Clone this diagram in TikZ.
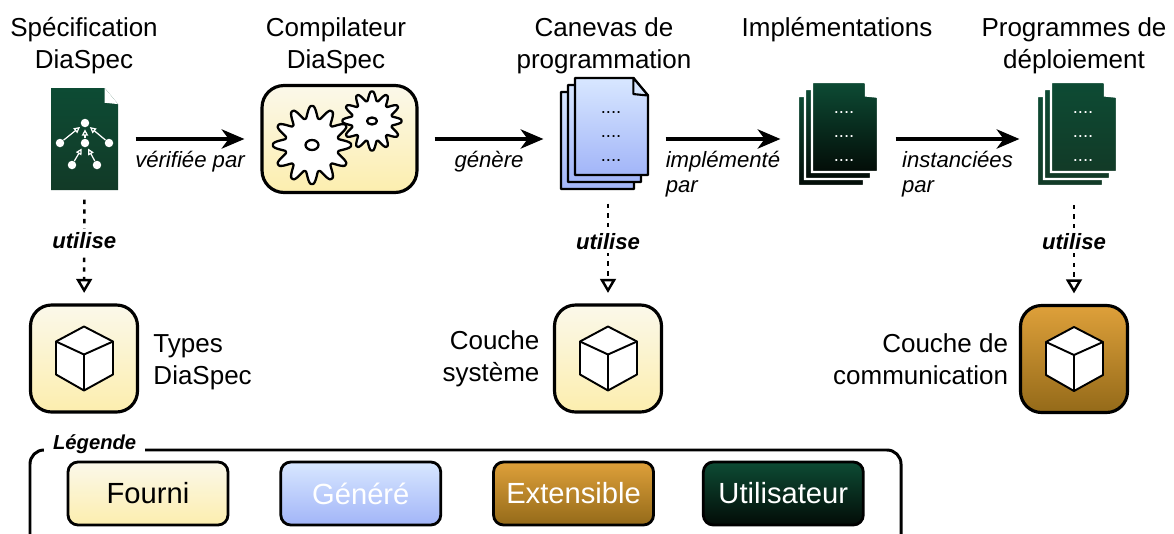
\documentclass[tikz,border=0pt]{standalone}
\usepackage{fontspec}
\setmainfont{Liberation Sans}
\usetikzlibrary{arrows.meta,positioning}

\definecolor{fourniA}{HTML}{FBF8EA}
\definecolor{fourniB}{HTML}{FCEEAE}
\definecolor{genereA}{HTML}{D8E7FF}
\definecolor{genereB}{HTML}{A2B5F8}
\definecolor{extA}{HTML}{DEA03A}
\definecolor{extB}{HTML}{946A19}
\definecolor{userA}{HTML}{0D4B34}
\definecolor{userB}{HTML}{030C07}
\definecolor{specB}{HTML}{123A27}

% one page of a document, from its top left corner
\newcommand{\docpage}[4][]{%
  \path[#1] #2 -- ++({0.8*#3},0) -- ++({0.2*#3},{0.24*#3}) -- ++(0,{#4-0.24*#3}) -- ++(-#3,0) -- cycle;}
\newcommand{\docfold}[3][]{%
  \path[#1] #2 ++({0.8*#3},0) -- ++(0,{0.22*#3}) -- ++({0.2*#3},{0.02*#3}) -- cycle;}
% white cube in the middle of a box
\newcommand{\cubeicon}[1]{%
  \draw[cube] ([shift={(0,-32)}]#1.center) -- ++(29,15) -- ++(0,33) -- ++(-29,16) -- ++(-28,-16) -- ++(0,-33) -- cycle;
  \draw[cube, fill=none] ([shift={(-28,-17)}]#1.center) -- ++(28,13) -- ++(29,-13) ++(-29,13) -- ++(0,36);}

\tikzset{
  fourni/.style={top color=fourniA, bottom color=fourniB},
  genere/.style={top color=genereA, bottom color=genereB},
  extensible/.style={top color=extA, bottom color=extB},
  utilisateur/.style={top color=userA, bottom color=userB},
  icon/.style={inner sep=0pt, outer sep=0pt},
  layerbox/.style={draw, line width=1.8pt, rounded corners=0.42cm, minimum width=2.14cm, minimum height=2.14cm, inner sep=0pt},
  legendbox/.style={draw, line width=1.6pt, rounded corners=0.2cm, minimum width=3.2cm, minimum height=1.26cm, font=\fontsize{16.6}{19}\selectfont},
  title/.style={align=center, font=\fontsize{14.8}{18.1}\selectfont},
  side/.style={inner sep=0pt, font=\fontsize{14.8}{18.1}\selectfont},
  lbl/.style={inner sep=0pt, align=left, font=\fontsize{12.6}{14.2}\selectfont\itshape},
  flow/.style={line width=2pt, -{Stealth[length=13pt,width=11pt,inset=4pt]}, shorten <=10pt, shorten >=10pt},
  uses/.style={line width=1.4pt, dash pattern=on 2.5pt off 3pt, -{Triangle[open,length=8pt,width=9pt,line width=1.4pt]}, shorten >=6pt},
  usestext/.style={fill=white, inner sep=2pt, font=\fontsize{12.6}{14}\selectfont\bfseries\itshape},
  gear/.style={draw, fill=white, line width=1.3pt, line join=round},
  cube/.style={draw, fill=white, line width=1.1pt, line join=round},
  bluepage/.style={genere, draw, line width=1.4pt, line join=round},
  greenpage/.style={utilisateur, draw=white, line width=1.2pt},
  specpage/.style={top color=userA, bottom color=specB},
  progpage/.style={top color=userA, bottom color=specB, draw=white, line width=1.2pt},
  treedot/.style={circle, fill=white, inner sep=0pt, minimum size=0.17cm},
  treearrow/.style={white, line width=0.7pt, -{Triangle[open,length=3.5pt,width=3.5pt]}, shorten >=1pt},
  dotsline/.style={inner sep=0pt, font=\fontsize{10.5}{12}\selectfont},
  legendtitle/.style={fill=white, anchor=west, inner xsep=5pt, inner ysep=1pt, font=\fontsize{11.5}{13}\selectfont\bfseries\itshape},
}

\begin{document}
\begin{tikzpicture}[x=0.02cm, y=-0.02cm]
\useasboundingbox (0,0) rectangle (1174,534);
\clip (0,0) rectangle (1174,534);

% the chain
\node[icon, minimum width=1.34cm, minimum height=2.04cm] (spec) at (84.5,139) {};
\node[icon, draw, fourni, line width=1.8pt, rounded corners=0.44cm, minimum width=3.1cm, minimum height=2.14cm] (compil) at (339.5,139) {};
\node[icon, minimum width=1.74cm, minimum height=2.44cm] (canevas) at (604.5,139) {};
\node[icon, minimum width=1.6cm, minimum height=2.28cm] (impl) at (838,139) {};
\node[icon, minimum width=1.6cm, minimum height=2.28cm] (prog) at (1077,139) {};

\node[title] (tspec) at (84,46) {Spécification\\DiaSpec};
\node[title] (tcompil) at (336,46) {Compilateur\\DiaSpec};
\node[title] (tcanevas) at (604,46) {Canevas de\\programmation};
\node[title] (timpl) at (837,30) {Implémentations};
\node[title] (tprog) at (1074,46) {Programmes de\\déploiement};

% specification
\docpage[specpage]{(spec.north west)}{67}{102}
\docfold[fill=white]{(spec.north west)}{67}
\node[treedot] (s1) at ([shift={(0.5,-16)}]spec) {};
\node[treedot] (s2) at ([shift={(-24.5,4)}]spec) {};
\node[treedot] (s3) at ([shift={(0.5,4)}]spec) {};
\node[treedot] (s4) at ([shift={(24.5,4)}]spec) {};
\node[treedot] (s5) at ([shift={(-12.5,26)}]spec) {};
\node[treedot] (s6) at ([shift={(12.5,26)}]spec) {};
\draw[treearrow] (s2) -- (s1);
\draw[treearrow] (s3) -- (s1);
\draw[treearrow] (s4) -- (s1);
\draw[treearrow] (s5) -- (s3);
\draw[treearrow] (s6) -- (s3);

% compiler gears
\begin{scope}[shift={(372,121)}]
  \draw[gear] plot[domain=0:360, samples=241, smooth] (\x:{25+4.5*max(-1,min(1,1.1*cos(12*\x)))}) -- cycle;
  \draw[gear] (0,0) ellipse [x radius=0.1cm, y radius=0.07cm];
\end{scope}
\begin{scope}[shift={(312,145)}]
  \draw[gear] plot[domain=0:360, samples=241, smooth] (\x:{33+6*max(-1,min(1,1.1*cos(12*\x)))}) -- cycle;
  \draw[gear] (0,0) ellipse [x radius=0.13cm, y radius=0.1cm];
\end{scope}

% stacks of pages
\foreach \off in {14,7,0} {
  \docpage[bluepage]{([shift={(-73-\off,\off)}]canevas.north east)}{73}{97}
  \docpage[greenpage]{([shift={(-66-\off,\off)}]impl.north east)}{66}{90}
  \docpage[progpage]{([shift={(-66-\off,\off)}]prog.north east)}{66}{90}
}
\docfold[fill=genereA, draw, line width=1.2pt, line join=round]{([shift={(-73,0)}]canevas.north east)}{73}
\docfold[fill=white]{([shift={(-66,0)}]impl.north east)}{66}
\docfold[fill=white]{([shift={(-66,0)}]prog.north east)}{66}
\foreach \dy in {113,137,161} {
  \node[dotsline] at (611,\dy) {....};
  \node[dotsline, text=white] at (844,\dy) {....};
  \node[dotsline, text=white] at (1083,\dy) {....};
}

\draw[flow] (spec) -- node[lbl, below=6pt] {vérifiée par} (compil);
\draw[flow] (compil) -- node[lbl, below=6pt] {génère} (canevas);
\draw[flow] (canevas) -- node[lbl, below=6pt] {implémenté\\par} (impl);
\draw[flow] (impl) -- node[lbl, below=6pt] {instanciées\\par} (prog);

% layers
\node[layerbox, fourni] (types) at (84,358.5) {};
\node[layerbox, fourni] (couchesys) at (608,358.5) {};
\node[layerbox, extensible] (couchecom) at (1074,359) {};
\cubeicon{types}
\cubeicon{couchesys}
\cubeicon{couchecom}
\node[side, right=8pt of types, align=left, yshift=-2pt] {Types\\DiaSpec};
\node[side, left=7.5pt of couchesys, align=right] {Couche\\système};
\node[side, left=6pt of couchecom, align=right] {Couche de\\communication};

\draw[uses, shorten <=5.5pt] (spec) -- node[pos=0.45, usestext] {utilise} (types);
\draw[uses, shorten <=2pt] (couchesys |- canevas.south) -- node[pos=0.4, usestext] {utilise} (couchesys);
\draw[uses, shorten <=5pt] (couchecom |- prog.south) -- node[pos=0.42, usestext] {utilise} (couchecom);

% legend
\draw[line width=1.7pt, rounded corners=0.28cm] (30,450) rectangle (901,620);
\node[legendtitle] (legende) at (44,444) {Légende};
\node[legendbox, fourni] (fourni) at (148,493.5) {Fourni};
\node[legendbox, genere, text=white, right=1cm of fourni] (genere) {Généré};
\node[legendbox, extensible, text=white, right=1cm of genere] (extensible) {Extensible};
\node[legendbox, utilisateur, text=white, right=0.94cm of extensible] (utilisateur) {Utilisateur};
\end{tikzpicture}
\end{document}
